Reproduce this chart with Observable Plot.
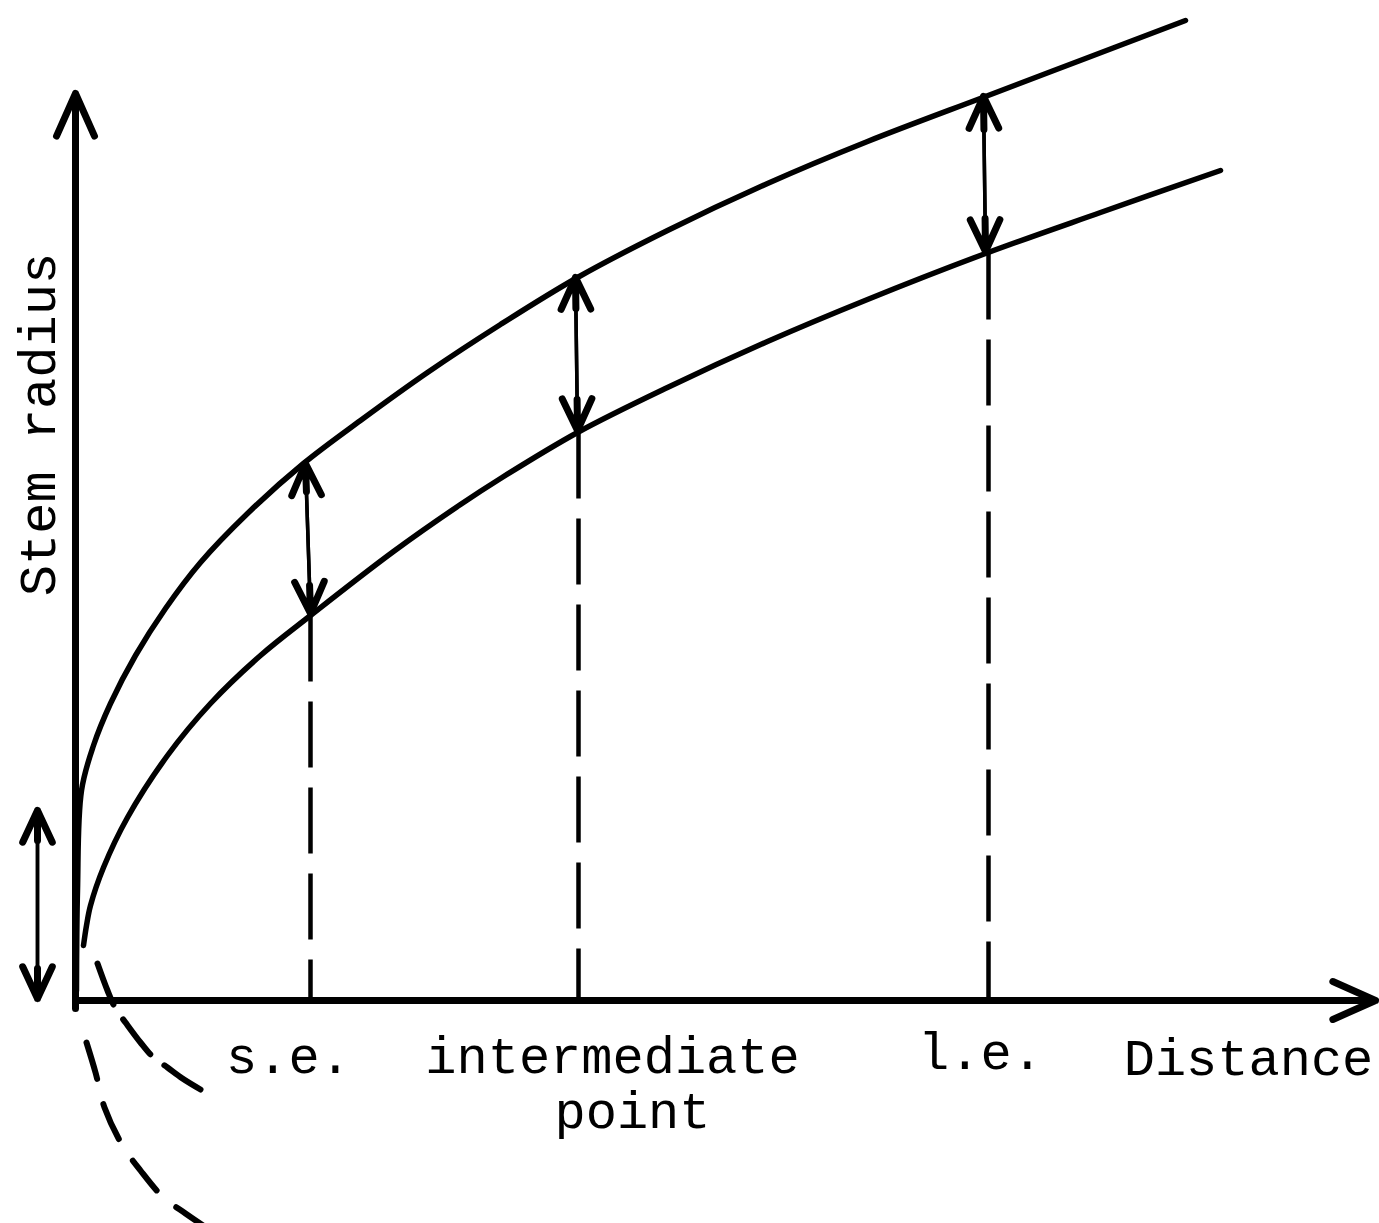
<!DOCTYPE html>
<html>
<head>
<meta charset="utf-8">
<script src="https://cdn.jsdelivr.net/npm/d3@7"></script>
<script src="https://cdn.jsdelivr.net/npm/@observablehq/plot@0.6"></script>
<style>
  html, body { margin: 0; padding: 0; background: #fff; }
  #chart svg { display: block; }
</style>
</head>
<body>
<div id="chart"></div>
<script>
// Schematic units (origin at the intersection of the axes)
// Upper growth curve (solid part)
const upperX = [1, 2, 6, 18, 35, 60, 90, 125, 172, 228, 285, 352, 425, 502, 592, 692, 792, 910, 1010, 1110];
const upperY = [10, 110, 210, 255, 297, 345, 392, 438, 487, 537, 580, 628, 676, 723, 770, 817, 859, 904, 942, 980];
// Upper curve continued below the axis (dashed)
const upperDashX = [11, 20, 29, 47, 65, 88, 110, 135];
const upperDashY = [-42, -72, -107, -145, -170, -197, -213, -230];

// Lower growth curve (solid part)
const lowerX = [8, 11, 15, 28, 52, 92, 135, 185, 235, 318, 385, 425, 502, 592, 692, 792, 910, 1025, 1145];
const lowerY = [55, 75, 95, 133, 183, 245, 297, 345, 385, 449, 496, 522, 568, 613, 659, 701, 747, 788, 830];
// Lower curve continued below (dashed)
const lowerDashX = [22, 32, 40, 50, 65, 78, 92, 107, 125];
const lowerDashY = [37, 10, -8, -22, -42, -57, -67, -78, -89];

// Axes (end points of the two axis arrows)
const axisStartX = [0, 0];
const axisStartY = [-8, 0];
const axisEndX = [0, 1300];
const axisEndY = [907, 0];

// Double-headed arrows: radius increment at each point (top tip / bottom tip)
const incTopX = [230, 500, 908, -38];
const incTopY = [537, 723, 904, 190];
const incBotX = [235, 502, 910, -38];
const incBotY = [387, 570, 749, 2];

// Dashed drop lines from the lower curve to the distance axis
const dropX = [235, 503, 913];
const dropTopY = [385, 568, 747];

// Labels
const labelText = ["s.e.", "intermediate", "point", "l.e.", "Distance"];
const labelX = [213, 537, 557, 905, 1173];
const labelY = [-56, -56, -111, -52, -58];
const yTitle = "Stem radius";
const yTitleX = -37;
const yTitleY = 576;

const pts = (xs, ys) => xs.map((x, i) => ({x, y: ys[i]}));
const upper = pts(upperX, upperY);
const upperDash = pts(upperDashX, upperDashY);
const lower = pts(lowerX, lowerY);
const lowerDash = pts(lowerDashX, lowerDashY);
const axes = axisEndX.map((x, i) => ({x1: axisStartX[i], y1: axisStartY[i], x2: x, y2: axisEndY[i]}));
const incs = incTopX.map((x, i) => ({xt: x, yt: incTopY[i], xb: incBotX[i], yb: incBotY[i]}));
const drops = dropX.map((x, i) => ({x, y1: dropTopY[i], y2: 0}));
const labels = labelText.map((t, i) => ({t, x: labelX[i], y: labelY[i]}));

const ink = "#000";
const font = "'Liberation Mono', 'Courier New', monospace";
const round = {strokeLinecap: "round", strokeLinejoin: "round"};

// thin shafts with heads, then bolder heads drawn over the last part of each arrow
const shaft = {stroke: ink, strokeWidth: 3.5, headAngle: 50, headLength: 15, ...round};
const bold = {stroke: ink, strokeWidth: 7, headAngle: 50, headLength: 7.5, ...round};
const shortOnes = (d, i) => i < 3;
const longOnes = (d, i) => i >= 3;

const chart = Plot.plot({
  width: 1379,
  height: 1223,
  margin: 0,
  x: {domain: [-75, 1304], axis: null},
  y: {domain: [-223, 1000], axis: null},
  style: {background: "#fff", overflow: "visible"},
  marks: [
    // axes
    Plot.arrow(axes, {x1: "x1", y1: "y1", x2: "x2", y2: "y2", stroke: ink, strokeWidth: 7,
      headAngle: 48, headLength: 10, ...round}),
    // dashed drop lines
    Plot.link(drops, {x1: "x", y1: "y1", x2: "x", y2: "y2", stroke: ink, strokeWidth: 4.5,
      strokeDasharray: "66,20"}),
    // curves
    Plot.line(upper, {x: "x", y: "y", curve: "catmull-rom", stroke: ink, strokeWidth: 5.5, ...round}),
    Plot.line(lower, {x: "x", y: "y", curve: "catmull-rom", stroke: ink, strokeWidth: 5.5, ...round}),
    Plot.line(upperDash, {x: "x", y: "y", curve: "catmull-rom", stroke: ink, strokeWidth: 6,
      strokeDasharray: "38,26", strokeLinecap: "round"}),
    Plot.line(lowerDash, {x: "x", y: "y", curve: "catmull-rom", stroke: ink, strokeWidth: 6,
      strokeDasharray: "44,18", strokeLinecap: "round"}),
    // double-headed increment arrows
    Plot.arrow(incs, {x1: "xb", y1: "yb", x2: "xt", y2: "yt", ...shaft}),
    Plot.arrow(incs, {x1: "xt", y1: "yt", x2: "xb", y2: "yb", ...shaft}),
    Plot.arrow(incs, {x1: "xb", y1: "yb", x2: "xt", y2: "yt", ...bold, insetStart: 122, filter: shortOnes}),
    Plot.arrow(incs, {x1: "xt", y1: "yt", x2: "xb", y2: "yb", ...bold, insetStart: 122, filter: shortOnes}),
    Plot.arrow(incs, {x1: "xb", y1: "yb", x2: "xt", y2: "yt", ...bold, insetStart: 158, filter: longOnes}),
    Plot.arrow(incs, {x1: "xt", y1: "yt", x2: "xb", y2: "yb", ...bold, insetStart: 158, filter: longOnes}),
    // labels
    Plot.text(labels, {x: "x", y: "y", text: "t", fill: ink, fontSize: 52, fontFamily: font}),
    Plot.text([yTitle], {x: yTitleX, y: yTitleY, text: d => d, rotate: -90, fill: ink,
      fontSize: 52, fontFamily: font})
  ]
});
document.getElementById("chart").appendChild(chart);
</script>
</body>
</html>
